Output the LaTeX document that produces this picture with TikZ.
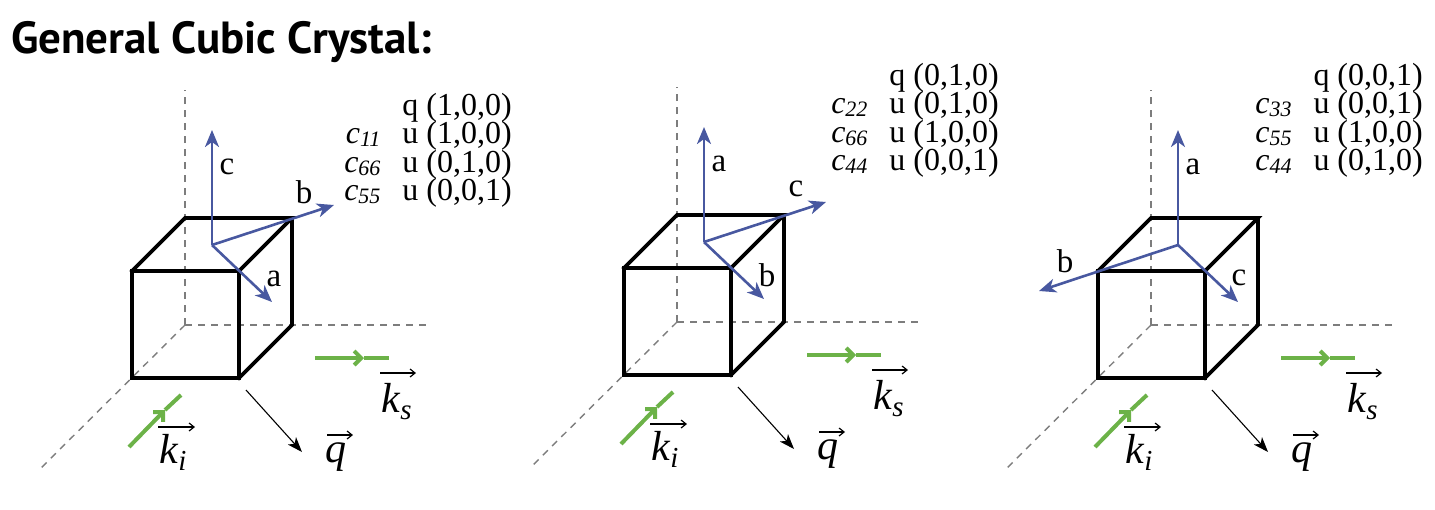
\documentclass[tikz,border=0pt]{standalone}
\usepackage{fontspec}
\setmainfont{Liberation Serif}
\newfontfamily\titlefont{PT Sans}
\usetikzlibrary{arrows.meta}
\definecolor{vblue}{RGB}{72,88,160}
\definecolor{kgreen}{RGB}{108,178,72}
\definecolor{axgray}{RGB}{125,125,125}
\newcommand{\csub}[2]{\textit{c}\raisebox{-0.1em}{\fontsize{22}{22}\selectfont\itshape #1}\hspace{22pt}#2}
\newcommand{\kwithsub}[1]{\textit{k}\raisebox{-0.17em}{\fontsize{29}{29}\selectfont\itshape #1}}
\newcommand{\tblock}[4]{\vtop{\baselineskip=28.5pt\lineskiplimit=-60pt\lineskip=0pt
  \halign{\hfil##\cr #1\cr #2\cr #3\cr #4\cr}}}
\tikzset{
  axisline/.style={axgray, line width=1.4pt, dash pattern=on 7pt off 6pt},
  cubeedge/.style={black, line width=3.6pt, line join=miter, line cap=rect},
  vecarrow/.style={vblue, line width=2.6pt, -{Stealth[length=17pt,width=14pt,inset=5pt]}},
  beam/.style={kgreen, line width=4pt},
  beamtip/.style={kgreen, line width=4pt, -{Straight Barb[length=7pt,width=14pt]}},
  qarrow/.style={black, line width=1.1pt, -{Stealth[length=15pt,width=11pt,inset=4pt]}},
  overarrow/.style={black, line width=1.2pt, -{Straight Barb[length=5pt,width=8pt]}},
  veclbl/.style={inner sep=0pt, font=\fontsize{33}{33}\selectfont},
  klbl/.style={inner sep=0pt, anchor=base west, font=\fontsize{42}{42}\selectfont},
  tblk/.style={inner sep=0pt, anchor=base east, font=\fontsize{32}{28.5}\selectfont},
  cubeframe/.pic={
    \coordinate (-O) at (53,-53);
    \coordinate (-Ztop) at (53,-288);
    \coordinate (-Xend) at (297,-53);
    \coordinate (-Yend) at (-93,92);
    \draw[axisline] (-O) -- (-Ztop);
    \draw[axisline] (-O) -- (-Xend);
    \draw[axisline] (-O) -- (-Yend);
    \draw[cubeedge] (0,0) -- (107,0) -- (107,-107) -- (0,-107) -- cycle;
    \draw[cubeedge] (0,-107) -- (53,-160) -- (160,-160) -- (107,-107);
    \draw[cubeedge] (160,-160) -- (160,-53) -- (107,0);
    \coordinate (-ksA) at (183,-20);
    \coordinate (-ksM) at (232,-20);
    \coordinate (-ksB) at (257,-20);
    \draw[beamtip] (-ksA) -- (-ksM);
    \draw[beam] (-ksM) -- (-ksB);
    \coordinate (-kiA) at (-3,69);
    \coordinate (-kiM) at (33,32);
    \coordinate (-kiB) at (49,17);
    \draw[beamtip] (-kiA) -- (-kiM);
    \draw[beam] (-kiM) -- (-kiB);
    \coordinate (-qA) at (114,12);
    \coordinate (-qB) at (170,74);
    \draw[qarrow] (-qA) -- (-qB);
    % labels k_s, k_i, q with arrows above
    \node[klbl] (-kslbl) at (249,34) {\kwithsub{s}};
    \coordinate (-ksL) at (248,-5);
    \coordinate (-ksR) at (284,-5);
    \draw[overarrow] (-ksL) -- (-ksR);
    \node[klbl] (-kilbl) at (27,85) {\kwithsub{i}};
    \coordinate (-kiL) at (26,49);
    \coordinate (-kiR) at (63,49);
    \draw[overarrow] (-kiL) -- (-kiR);
    \node[klbl] (-qlbl) at (193,84) {\textit{q}};
    \coordinate (-qL) at (195,57);
    \coordinate (-qR) at (221,57);
    \draw[overarrow] (-qL) -- (-qR);
  }
}
\begin{document}
\begin{tikzpicture}[x=1pt,y=-1pt]
\useasboundingbox (0,0) rectangle (1435,509);
\node[inner sep=0pt, anchor=base west, font=\titlefont\bfseries\fontsize{45}{45}\selectfont] (title) at (11,53) {General Cubic Crystal:};

% ---------- panel 1 ----------
\begin{scope}[shift={(132,378)}]
  \pic (p1) {cubeframe};
  \coordinate (p1o) at (80,-133);
  \coordinate (p1up) at (80,-248);
  \coordinate (p1ur) at (202,-173);
  \coordinate (p1dr) at (140,-76);
  \draw[vecarrow] (p1o) -- (p1up);
  \draw[vecarrow] (p1o) -- (p1ur);
  \draw[vecarrow] (p1o) -- (p1dr);
  \node[veclbl] (p1c) at (95,-211) {c};
  \node[veclbl] (p1b) at (172,-186) {b};
  \node[veclbl] (p1a) at (142,-99) {a};
\end{scope}
\node[tblk] (t1) at (512,115) {\tblock{q (1,0,0)}{\csub{11}{u (1,0,0)}}{\csub{66}{u (0,1,0)}}{\csub{55}{u (0,0,1)}}};

% ---------- panel 2 ----------
\begin{scope}[shift={(624,375)}]
  \pic (p2) {cubeframe};
  \coordinate (p2o) at (80,-133);
  \coordinate (p2up) at (80,-248);
  \coordinate (p2ur) at (202,-173);
  \coordinate (p2dr) at (140,-76);
  \draw[vecarrow] (p2o) -- (p2up);
  \draw[vecarrow] (p2o) -- (p2ur);
  \draw[vecarrow] (p2o) -- (p2dr);
  \node[veclbl] (p2a) at (95,-211) {a};
  \node[veclbl] (p2c) at (172,-186) {c};
  \node[veclbl] (p2b) at (143,-100) {b};
\end{scope}
\node[tblk] (t2) at (999,85) {\tblock{q (0,1,0)}{\csub{22}{u (0,1,0)}}{\csub{66}{u (1,0,0)}}{\csub{44}{u (0,0,1)}}};

% ---------- panel 3 ----------
\begin{scope}[shift={(1098,378)}]
  \pic (p3) {cubeframe};
  \coordinate (p3o) at (80,-133);
  \coordinate (p3up) at (80,-248);
  \coordinate (p3ul) at (-59,-87);
  \coordinate (p3dr) at (140,-76);
  \draw[vecarrow] (p3o) -- (p3up);
  \draw[vecarrow] (p3o) -- (p3ul);
  \draw[vecarrow] (p3o) -- (p3dr);
  \node[veclbl] (p3a) at (95,-211) {a};
  \node[veclbl] (p3b) at (-33,-117) {b};
  \node[veclbl] (p3c) at (141,-100) {c};
\end{scope}
\node[tblk] (t3) at (1423,85) {\tblock{q (0,0,1)}{\csub{33}{u (0,0,1)}}{\csub{55}{u (1,0,0)}}{\csub{44}{u (0,1,0)}}};
\end{tikzpicture}
\end{document}
